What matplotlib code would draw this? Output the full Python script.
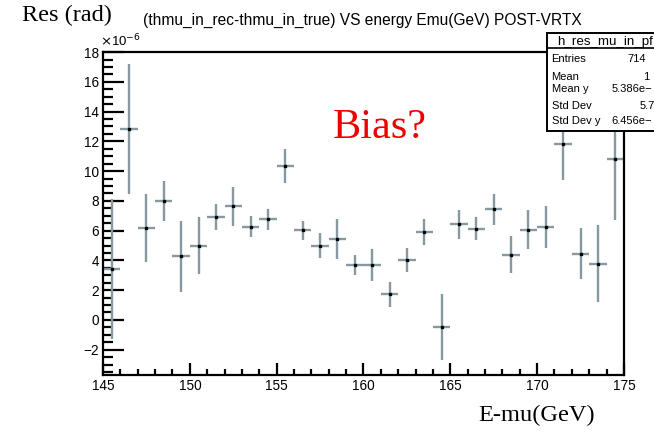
import matplotlib
matplotlib.use("Agg")
import matplotlib.pyplot as plt
from matplotlib.ticker import MultipleLocator
from matplotlib.patches import Rectangle
from matplotlib.lines import Line2D

# bin centres (GeV) and mean residual per bin (units of 1e-6 rad)
energy = [145.5, 146.5, 147.5, 148.5, 149.5, 150.5, 151.5, 152.5, 153.5, 154.5,
          155.5, 156.5, 157.5, 158.5, 159.5, 160.5, 161.5, 162.5, 163.5, 164.5,
          165.5, 166.5, 167.5, 168.5, 169.5, 170.5, 171.5, 172.5, 173.5, 174.5]
res_mean = [3.41, 12.85, 6.18, 8.01, 4.28, 5.00, 6.92, 7.63, 6.27, 6.76,
            10.37, 6.02, 4.97, 5.42, 3.68, 3.68, 1.74, 4.02, 5.91, -0.49,
            6.43, 6.13, 7.45, 4.37, 6.07, 6.24, 11.82, 4.46, 3.79, 10.82]
res_err = [4.72, 4.37, 2.31, 1.34, 2.39, 1.93, 0.90, 1.29, 0.73, 0.72,
           1.14, 0.66, 0.84, 1.34, 0.69, 1.06, 0.84, 0.78, 0.90, 2.23,
           0.96, 0.78, 1.04, 1.25, 1.30, 1.40, 2.40, 1.74, 2.58, 4.13]

stat_names = ["Entries", "Mean", "Mean y", "Std Dev", "Std Dev y"]
stat_values = ["714", "1", "5.386e\u2212", "5.7", "6.456e\u2212"]

SANS = "Liberation Sans"
SERIF = "Liberation Serif"

fig = plt.figure(figsize=(6.54, 4.34), dpi=100)
ax = fig.add_axes([0.1575, 0.136, 0.7965, 0.744])

bar_col = "#8698a0"
ax.errorbar(energy, res_mean, xerr=0.5, yerr=res_err, fmt="none", ecolor=bar_col,
            elinewidth=1.7, capsize=0, zorder=2)
ax.plot(energy, res_mean, "s", color="black", markersize=1.7, zorder=3)

ax.set_xlim(145, 175)
ax.set_ylim(-3.7, 18)

ax.xaxis.set_major_locator(MultipleLocator(5))
ax.xaxis.set_minor_locator(MultipleLocator(1))
ax.yaxis.set_major_locator(MultipleLocator(2))
ax.yaxis.set_minor_locator(MultipleLocator(0.5))

ax.tick_params(which="both", direction="in", top=False, right=False,
               labelsize=9.8, width=1.6, pad=3)
ax.tick_params(axis="y", which="major", length=15)
ax.tick_params(axis="y", which="minor", length=7)
ax.tick_params(axis="x", which="major", length=9)
ax.tick_params(axis="x", which="minor", length=4.5)
for lab in ax.get_xticklabels() + ax.get_yticklabels():
    lab.set_family(SANS)
for sp in ax.spines.values():
    sp.set_linewidth(1.6)

W, H = 654.0, 434.0

# exponent of the y scale
fig.text(100 / W, 1 - 41 / H, r"$\times$10$^{-6}$", fontsize=9.5, family=SANS,
         va="center", ha="left")

# titles and axis captions
fig.text(143 / W, 1 - 20 / H, "(thmu_in_rec-thmu_in_true) VS energy Emu(GeV) POST-VRTX",
         fontsize=11.2, family=SANS, va="center", ha="left")
fig.text(22 / W, 1 - 15 / H, "Res (rad)", fontsize=17.5, family=SERIF,
         va="center", ha="left")
fig.text(478 / W, 1 - 415 / H, "E-mu(GeV)", fontsize=17.6, family=SERIF,
         va="center", ha="left")
fig.text(333 / W, 1 - 128 / H, "Bias?", fontsize=30.5, family=SERIF,
         color="#ee0000", va="center", ha="left")

# statistics box, running off the right edge
bx0, by0, by1 = 546.5, 33.0, 131.0
fig.patches.append(Rectangle((bx0 / W, 1 - by1 / H), (W - bx0 + 5) / W, (by1 - by0) / H,
                             transform=fig.transFigure, facecolor="white",
                             edgecolor="black", linewidth=1.4, zorder=5))
fig.lines.append(Line2D([bx0 / W, 1.0], [1 - 48 / H, 1 - 48 / H],
                        transform=fig.transFigure, color="black", linewidth=1.2, zorder=8))
fig.text(557 / W, 1 - 42.5 / H, "h_res_mu_in_pf", fontsize=9.6, family=SANS,
         va="center", ha="left", zorder=7)
row_y = [58.7, 76.7, 88.5, 106.0, 121.5]
val_x = [627, 643, 612, 640, 611]
for name, val, yy, xx in zip(stat_names, stat_values, row_y, val_x):
    fig.text(551.5 / W, 1 - yy / H, name, fontsize=8, family=SANS,
             va="center", ha="left", zorder=7)
    fig.text(xx / W, 1 - yy / H, val, fontsize=8, family=SANS,
             va="center", ha="left", zorder=7)

fig.savefig("out.png", dpi=100)
